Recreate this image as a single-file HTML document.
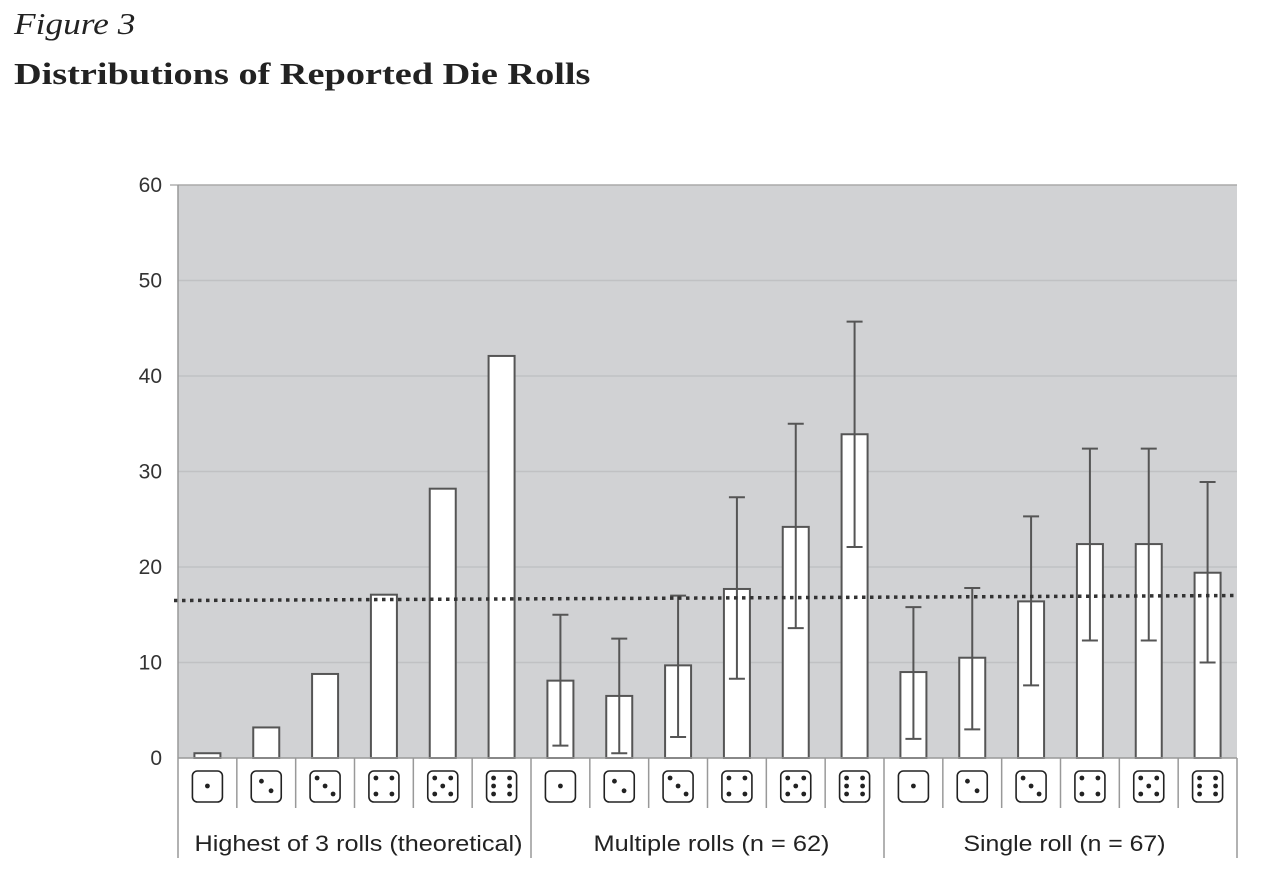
<!DOCTYPE html>
<html><head><meta charset="utf-8"><style>
body{margin:0;background:#fff;width:1266px;height:882px;overflow:hidden}
.t1{position:absolute;left:14px;top:6px;font:italic 31px "Liberation Serif",serif;color:#222;transform:scaleX(1.14);transform-origin:0 0}
.t2{position:absolute;left:14px;top:56px;font:bold 31px "Liberation Serif",serif;color:#222;transform:scaleX(1.235);transform-origin:0 0;white-space:nowrap}
</style></head><body>
<div class="t1">Figure 3</div>
<div class="t2">Distributions of Reported Die Rolls</div>
<svg id="c" width="1266" height="882" style="position:absolute;left:0;top:0"></svg>
<script>
const groups=["Highest of 3 rolls (theoretical)","Multiple rolls (n = 62)","Single roll (n = 67)"];
const values=[0.5,3.2,8.8,17.1,28.2,42.1, 8.1,6.5,9.7,17.7,24.2,33.9, 9.0,10.5,16.4,22.4,22.4,19.4];
const errLow=[null,null,null,null,null,null, 1.3,0.5,2.2,8.3,13.6,22.1, 2.0,3.0,7.6,12.3,12.3,10.0];
const errHigh=[null,null,null,null,null,null, 15.0,12.5,17.0,27.3,35.0,45.7, 15.8,17.8,25.3,32.4,32.4,28.9];
const yTicks=[0,10,20,30,40,50,60];
const refLine=16.7;
const faces=[1,2,3,4,5,6];
const NS="http://www.w3.org/2000/svg",svg=document.getElementById('c');
const X0=178,X1=1237,Y0=758,Y1=185,N=values.length,cw=(X1-X0)/N;
const y=v=>Y0-(v/60)*(Y0-Y1);const xc=i=>X0+cw*(i+0.5);
function el(t,a,p){const e=document.createElementNS(NS,t);for(const k in a)e.setAttribute(k,a[k]);(p||svg).appendChild(e);return e;}
let e=el('rect',{x:X0,y:Y1,width:X1-X0,height:Y0-Y1,fill:'#d1d2d4'});


yTicks.forEach(t=>{
 if(t>0){let g=el('line',{x1:X0,x2:X1,y1:y(t),y2:y(t),stroke:t==60?'#aaa':'#c0c1c3','stroke-width':1.5});
 
 }
 let tx=el('text',{x:162,y:y(t)+7,'text-anchor':'end','font-family':'Liberation Sans, sans-serif','font-size':21,fill:'#333'});tx.textContent=t;
 
 
});
el('line',{x1:170,x2:X0,y1:Y1,y2:Y1,stroke:'#888'});
values.forEach((v,i)=>{
 let b=el('rect',{x:xc(i)-13,y:y(v),width:26,height:Y0-y(v),fill:'#fff',stroke:'#555','stroke-width':2});
 
 
 if(errLow[i]!=null){
  const g=el('g',{stroke:'#555','stroke-width':2});
  
  
  el('line',{x1:xc(i),x2:xc(i),y1:y(errLow[i]),y2:y(errHigh[i])},g);
  el('line',{x1:xc(i)-8,x2:xc(i)+8,y1:y(errLow[i]),y2:y(errLow[i])},g);
  el('line',{x1:xc(i)-8,x2:xc(i)+8,y1:y(errHigh[i]),y2:y(errHigh[i])},g);
 }
});
let r=el('line',{x1:174,x2:X1,y1:y(refLine)+2,y2:y(refLine)-3,stroke:'#333','stroke-width':3.5,'stroke-dasharray':'3.5 4.5'});


el('line',{x1:X0,x2:X1,y1:Y0,y2:Y0,stroke:'#999','stroke-width':1.5});
el('line',{x1:X0,x2:X0,y1:Y1,y2:858,stroke:'#999','stroke-width':1.5});
const pips={1:[[0,0]],2:[[-0.6,-0.6],[0.6,0.6]],3:[[-1,-1],[0,0],[1,1]],4:[[-1,-1],[1,-1],[-1,1],[1,1]],5:[[-1,-1],[1,-1],[0,0],[-1,1],[1,1]],6:[[-1,-1],[1,-1],[-1,0],[1,0],[-1,1],[1,1]]};
values.forEach((v,i)=>{
 if(i>0){const sep=el('line',{x1:X0+cw*i,x2:X0+cw*i,y1:Y0,y2:i%6==0?858:808,stroke:'#999','stroke-width':1.5});
 
 }
 const f=faces[i%6],cx=xc(i),cy=786;
 const g=el('g',{});
 
 
 el('rect',{x:cx-15,y:cy-15,width:30,height:31,rx:5,fill:'#fff',stroke:'#222','stroke-width':1.6},g);
 pips[f].forEach(p=>el('circle',{cx:cx+p[0]*8,cy:cy+p[1]*8,r:2.4,fill:'#222'},g));
});
el('line',{x1:X1,x2:X1,y1:Y0,y2:858,stroke:'#999','stroke-width':1.5});
const labW=[328,236,202];
groups.forEach((gname,k)=>{
 const t=el('text',{x:X0+cw*(6*k+3)+4,y:851,'text-anchor':'middle','font-family':'Liberation Sans, sans-serif','font-size':22,fill:'#222',textLength:labW[k],lengthAdjust:'spacingAndGlyphs'});
 t.textContent=gname;
 
 
});
</script>
</body></html>
